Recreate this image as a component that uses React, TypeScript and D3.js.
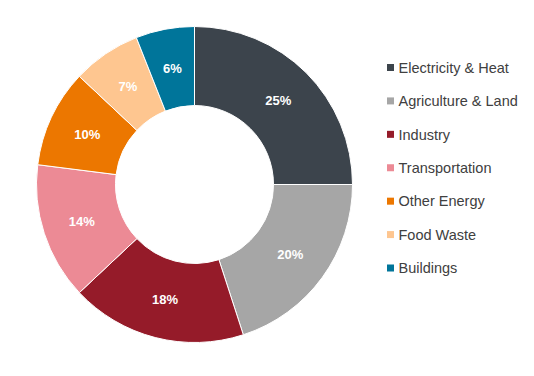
import React from "react";
import * as d3 from "d3";

const categories = ["Electricity & Heat", "Agriculture & Land", "Industry", "Transportation", "Other Energy", "Food Waste", "Buildings"];
const values = [25, 20, 18, 14, 10, 7, 6];
const colors = ["#3C444C", "#A6A6A6", "#951B29", "#EC8A95", "#EC7700", "#FEC690", "#00759A"];

const W = 534, H = 376;
const cx = 194.5, cy = 184.5, R = 158, r0 = 79;

export default function App() {
  const pie = d3.pie<number>().sort(null).value((d) => d)(values);
  const arc = d3.arc<d3.PieArcDatum<number>>().innerRadius(r0).outerRadius(R);
  const color = d3.scaleOrdinal<string, string>().domain(categories).range(colors);
  const legendY = d3.scalePoint<string>().domain(categories).range([67.5, 268]);
  return (
    <svg width={W} height={H} style={{ position: "absolute", left: 0, top: 0, fontFamily: "Arial, 'Liberation Sans', sans-serif" }}>
      <rect width={W} height={H} fill="#fff" />
      <g transform={`translate(${cx},${cy})`}>
        {pie.map((p, i) => (
          <path key={i} d={arc(p) || ""} fill={color(categories[i])} stroke="#fff" strokeWidth={1} />
        ))}
        {pie.map((p, i) => {
          const [x, y] = arc.centroid(p);
          return (
            <text key={"t" + i} x={x} y={y} dy="0.36em" textAnchor="middle" fill="#fff" fontWeight="bold" fontSize={13}>
              {values[i]}%
            </text>
          );
        })}
      </g>
      {categories.map((c, i) => (
        <g key={"l" + i} transform={`translate(387,${legendY(c)})`}>
          <rect x={0} y={-3.5} width={7} height={7} fill={color(c)} />
          <text x={11.5} y={0} dy="0.36em" fontSize={14.5} fill="#404040">{c}</text>
        </g>
      ))}
    </svg>
  );
}
